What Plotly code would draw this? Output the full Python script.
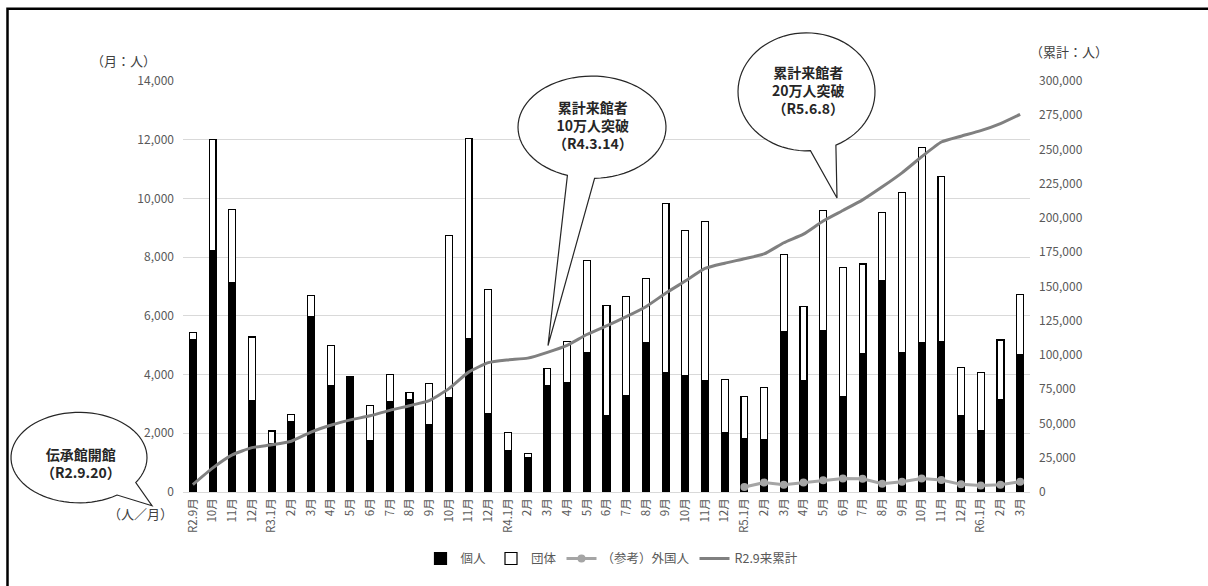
import math
import plotly.graph_objects as go

# ---------------- data ----------------
periods = ["R2.9", "R2.10", "R2.11", "R2.12",
           "R3.1", "R3.2", "R3.3", "R3.4", "R3.5", "R3.6", "R3.7", "R3.8", "R3.9", "R3.10", "R3.11", "R3.12",
           "R4.1", "R4.2", "R4.3", "R4.4", "R4.5", "R4.6", "R4.7", "R4.8", "R4.9", "R4.10", "R4.11", "R4.12",
           "R5.1", "R5.2", "R5.3", "R5.4", "R5.5", "R5.6", "R5.7", "R5.8", "R5.9", "R5.10", "R5.11", "R5.12",
           "R6.1", "R6.2", "R6.3"]
tick_labels = ["R2.9月", "10月", "11月", "12月",
               "R3.1月", "2月", "3月", "4月", "5月", "6月", "7月", "8月", "9月", "10月", "11月", "12月",
               "R4.1月", "2月", "3月", "4月", "5月", "6月", "7月", "8月", "9月", "10月", "11月", "12月",
               "R5.1月", "2月", "3月", "4月", "5月", "6月", "7月", "8月", "9月", "10月", "11月", "12月",
               "R6.1月", "2月", "3月"]
kojin = [5180, 8230, 7140, 3110,
         1660, 2400, 5990, 3640, 3850, 1740, 3090, 3150, 2310, 3200, 5210, 2680,
         1410, 1160, 3640, 3710, 4750, 2610, 3280, 5090, 4070, 3960, 3790, 2010,
         1830, 1800, 5460, 3790, 5490, 3240, 4720, 7210, 4740, 5090, 5130, 2610,
         2090, 3150, 4670]
dantai = [250, 3790, 2490, 2170,
          420, 230, 700, 1340, 70, 1210, 910, 250, 1380, 5550, 6840, 4230,
          610, 140, 580, 1410, 3130, 3750, 3370, 2190, 5760, 4940, 5420, 1820,
          1420, 1750, 2640, 2520, 4110, 4420, 3050, 2310, 5460, 6640, 5630, 1630,
          1990, 2030, 2070]
foreign_periods = ["R5.1", "R5.2", "R5.3", "R5.4", "R5.5", "R5.6", "R5.7", "R5.8", "R5.9",
                   "R5.10", "R5.11", "R5.12", "R6.1", "R6.2", "R6.3"]
foreign = [170, 320, 250, 320, 400, 460, 450, 280, 350, 460, 410, 260, 220, 250, 350]
cumulative = [5430, 17450, 27080, 32360,
              34440, 37070, 43760, 48740, 52660, 55610, 59610, 63010, 66700, 75450, 87500, 94410,
              96430, 97730, 101950, 107070, 114950, 121310, 127960, 135240, 145070, 153970, 163180, 167010,
              170260, 173810, 181910, 188220, 197820, 205480, 213250, 222770, 232970, 244700, 255460, 259700,
              263780, 268960, 275700]

# ---------------- geometry helpers (pixel -> paper) ----------------
L, R, T, B = 183, 1030, 81, 499


def px(x):
    return (x - L) / (R - L)


def py(y):
    return (B - y) / (B - T)


def bubble_path(cx, cy, rx, ry, t0, t1, tip):
    pts = []
    n = 72
    for i in range(n + 1):
        t = math.radians(t0 + (t1 - t0) * i / n)
        pts.append((cx + rx * math.cos(t), cy + ry * math.sin(t)))
    pts.append(tip)
    return "M " + " L ".join(f"{px(x):.5f},{py(y):.5f}" for x, y in pts) + " Z"


FONT = "Noto Sans CJK JP"
GRAY = "#595959"

fig = go.Figure()
fig.add_trace(go.Bar(x=periods, y=kojin, name="個人",
                     marker=dict(color="#000000", line=dict(color="#000000", width=1.2))))
fig.add_trace(go.Bar(x=periods, y=dantai, name="団体",
                     marker=dict(color="#ffffff", line=dict(color="#000000", width=1.2))))
fig.add_trace(go.Scatter(x=foreign_periods, y=foreign, name="（参考）外国人", mode="lines+markers",
                         line=dict(color="#a5a5a5", width=3),
                         marker=dict(color="#a5a5a5", size=8)))
fig.add_trace(go.Scatter(x=periods, y=cumulative, name="R2.9来累計", mode="lines", yaxis="y2",
                         line=dict(color="#808080", width=3, shape="spline", smoothing=0.5)))

shapes = [
    # outer frame
    dict(type="rect", xref="paper", yref="paper", x0=px(7.5), x1=px(1260), y0=py(650), y1=py(7.5),
         line=dict(color="#000000", width=2.5), fillcolor="rgba(0,0,0,0)", layer="above"),
    # bubbles
    dict(type="path", xref="paper", yref="paper", layer="above",
         path=bubble_path(79, 464, 68, 46, 55.9, 393.4, (152, 513)),
         line=dict(color="#262626", width=1.2), fillcolor="#ffffff"),
    dict(type="path", xref="paper", yref="paper", layer="above",
         path=bubble_path(592, 128, 74, 52, 109.4, 448.0, (548, 350)),
         line=dict(color="#262626", width=1.2), fillcolor="#ffffff"),
    dict(type="path", xref="paper", yref="paper", layer="above",
         path=bubble_path(806.5, 92, 68.5, 60, 86.7, 424.6, (837, 200)),
         line=dict(color="#262626", width=1.2), fillcolor="#ffffff"),
]

annotations = []


def txt(x, y, s, size, color, bold=False):
    annotations.append(dict(xref="paper", yref="paper", x=px(x), y=py(y), text=s,
                            showarrow=False, xanchor="center", yanchor="middle", align="center",
                            font=dict(family=FONT, size=size, color=color,
                                      weight=("bold" if bold else "normal"))))


# bubble texts
txt(81, 469, "伝承館開館<br>（R2.9.20）", 14, "#262626", True)
txt(593, 126, "累計来館者<br>10万人突破<br>（R4.3.14）", 14, "#262626", True)
txt(808, 90, "累計来館者<br>20万人突破<br>（R5.6.8）", 14, "#262626", True)
# unit labels
txt(123, 60, "（月：人）", 13, "#404040")
txt(1069, 51, "（累計：人）", 13, "#404040")
txt(140, 521, "（人／月）", 13, "#404040")

fig.update_layout(
    width=1208, height=586, autosize=False,
    margin=dict(l=L, r=1208 - R, t=T, b=586 - B, pad=0),
    paper_bgcolor="#ffffff", plot_bgcolor="#ffffff",
    barmode="stack", bargap=0.65,
    font=dict(family=FONT, size=12, color=GRAY),
    showlegend=True,
    legend=dict(orientation="h", x=px(612), xanchor="center", y=py(567), yanchor="middle",
                font=dict(family=FONT, size=12.5, color=GRAY), itemwidth=30, traceorder="normal"),
    xaxis=dict(type="category", tickmode="array", tickvals=periods, ticktext=tick_labels,
               range=[-0.5, len(periods) - 0.5], autorange=False,
               tickangle=-90, tickfont=dict(family=FONT, size=11.5, color=GRAY),
               showgrid=False, showline=False, zeroline=False, ticks="", ticklabelstandoff=3),
    yaxis=dict(range=[0, 14000], dtick=2000, tickformat=",", showgrid=True, gridcolor="#d9d9d9",
               gridwidth=1, zeroline=True, zerolinecolor="#d9d9d9", zerolinewidth=1, showline=False,
               ticks="", tickfont=dict(family=FONT, size=12, color=GRAY), ticklabelstandoff=8),
    yaxis2=dict(range=[0, 300000], dtick=25000, tickformat=",", overlaying="y", side="right",
                showgrid=False, zeroline=False, showline=False, ticks="",
                tickfont=dict(family=FONT, size=12, color=GRAY), ticklabelstandoff=8),
    shapes=shapes,
    annotations=annotations,
)

fig.write_html("out.html")
